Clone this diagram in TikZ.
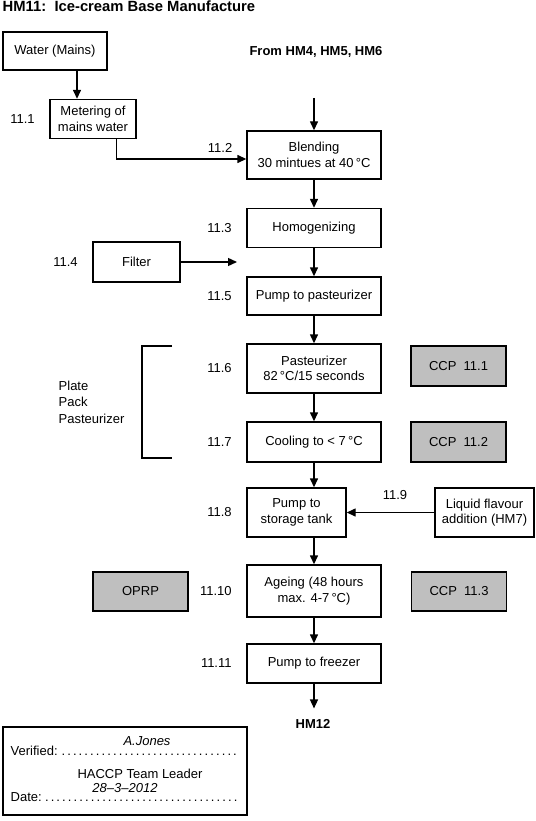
\documentclass[tikz,border=0pt]{standalone}
\usepackage{fontspec}
\setmainfont{Liberation Sans}
\usetikzlibrary{arrows.meta, positioning}
\AtBeginDocument{\fontsize{13}{15.5}\selectfont}

\begin{document}
\begin{tikzpicture}[x=1pt, y=-1pt, line width=1.4pt,
  stepbox/.style={rectangle, draw, fill=white, minimum width=134pt, minimum height=39pt, align=center, inner sep=2pt},
  ccpbox/.style={rectangle, draw, fill=black!25, minimum width=95pt, minimum height=40pt, align=center},
  steplabel/.style={inner sep=0pt, left=14pt of #1},
  flow/.style={-{Triangle[length=9pt, width=8pt]}}]
\useasboundingbox (0,0) rectangle (535,821);

\node[anchor=base west, inner sep=0pt, font=\fontsize{14.8}{17}\selectfont\bfseries] (title) at (2,11.5) {HM11:\ \ Ice-cream Base Manufacture};

% Water supply
\node[stepbox, minimum width=104pt, minimum height=38pt] (water) at (55,51) {Water (Mains)};
\node[stepbox, minimum width=86pt] (meter) at (93,119) {Metering of\\mains water};
\node[steplabel=meter] (l111) {11.1};

% Main line
\node[font=\bfseries] (from) at (316,52) {From HM4, HM5, HM6};
\coordinate (fromend) at (314,98);
\node[stepbox, minimum height=48pt] (blend) at (314,155) {Blending\\30 mintues at 40\,°C};
\node[anchor=east, inner sep=0pt] (l112) at (233,148) {11.2};
\node[stepbox] (homog) at (314,228) {Homogenizing};
\node[steplabel=homog] (l113) {11.3};
\node[stepbox, minimum width=87pt, minimum height=40pt] (filter) at (136.5,262) {Filter};
\node[steplabel=filter] (l114) {11.4};
\coordinate (filterend) at (237,262);
\node[stepbox, minimum height=38pt] (pumppast) at (314,296) {Pump to pasteurizer};
\node[steplabel=pumppast] (l115) {11.5};
\node[stepbox, minimum height=49pt] (past) at (314,368.5) {Pasteurizer\\82\,°C/15 seconds};
\node[steplabel=past] (l116) {11.6};
\node[stepbox, minimum height=40pt] (cool) at (314,442) {Cooling to < 7\,°C};
\node[steplabel=cool] (l117) {11.7};
\node[stepbox, minimum width=99pt, minimum height=49pt] (storage) at (296.5,512.5) {Pump to\\storage tank};
\node[steplabel=storage] (l118) {11.8};
\node[stepbox, minimum width=99pt, minimum height=49pt] (liquid) at (484.5,512.5) {Liquid flavour\\addition (HM7)};
\node (l119) at (395,495) {11.9};
\node[stepbox, minimum height=52pt] (ageing) at (314,591) {Ageing (48 hours\\max. 4-7\,°C)};
\node[steplabel=ageing] (l1110) {11.10};
\node[stepbox] (freezer) at (314,663.5) {Pump to freezer};
\node[steplabel=freezer] (l1111) {11.11};
\node[font=\bfseries] (hm12) at (313,724) {HM12};

% Control points
\node[ccpbox] (ccp1) at (458.5,366) {CCP~~11.1};
\node[ccpbox] (ccp2) at (458.5,442) {CCP~~11.2};
\node[ccpbox, minimum height=39pt] (ccp3) at (459,591.5) {CCP~~11.3};
\node[ccpbox, minimum height=39pt] (oprp) at (140.5,591.5) {OPRP};

% Plate pack bracket
\draw (172,346) -- (142,346) -- (142,458) -- (172,458);
\node[anchor=west, align=left, inner sep=0pt, font=\fontsize{13}{16.5}\selectfont] (plate) at (58,402) {Plate\\Pack\\Pasteurizer};

% Arrows
\draw[flow] (water.south -| 77,0) -- (meter.north -| 77,0);
\draw[flow] ([xshift=-20pt]meter.south east) |- ([yshift=-4pt]blend.west);
\draw[flow] (fromend) -- (blend);
\draw[flow] (blend) -- (homog);
\draw[flow] (homog) -- (pumppast);
\draw[flow] (filter) -- (filterend);
\draw[flow] (pumppast) -- (past);
\draw[flow] (past) -- (cool);
\draw[flow] (cool) -- (cool |- storage.north);
\draw[flow] (liquid) -- (storage);
\draw[flow] (ageing |- storage.south) -- (ageing);
\draw[flow] (ageing) -- (freezer);
\draw[flow, shorten >=6pt] (freezer) -- (freezer |- hm12.north);

% Sign-off
\node[draw, minimum width=244pt, minimum height=88pt] (verify) at (125,771) {};
\node[anchor=base west, text width=230pt, inner sep=0pt] (verified) at (10,755) {Verified:\dotfill};
\node[inner sep=0pt, font=\fontsize{13}{15.5}\selectfont\itshape] (signer) at (147,741) {A.Jones};
\node (role) at (140,774) {HACCP Team Leader};
\node[anchor=base west, text width=230pt, inner sep=0pt] (date) at (10,801) {Date:\dotfill};
\node[inner sep=0pt, font=\fontsize{13}{15.5}\selectfont\itshape] (dateval) at (125,788) {28--3--2012};
\end{tikzpicture}
\end{document}
